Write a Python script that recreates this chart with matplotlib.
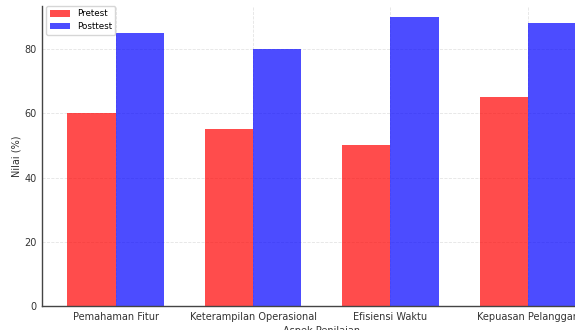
import numpy as np
import matplotlib
matplotlib.use("Agg")
import matplotlib.pyplot as plt

categories = ["Pemahaman Fitur", "Keterampilan Operasional", "Efisiensi Waktu", "Kepuasan Pelanggan"]
pretest = [60, 55, 50, 65]
posttest = [85, 80, 90, 88]

plt.rcParams["font.family"] = "DejaVu Sans"
text_color = "#333333"

fig = plt.figure(figsize = (5.75, 3.3), dpi = 100)
# axes runs past the right edge, the reference picture is cropped there
ax = fig.add_axes([42 / 575, 24 / 330, 559.5 / 575, 300 / 330])

x = np.arange(len(categories))
width = 0.35
ax.bar(x - width / 2, pretest, width, color = "red", alpha = 0.7, label = "Pretest")
ax.bar(x + width / 2, posttest, width, color = "blue", alpha = 0.7, label = "Posttest")

ax.set_xticks(x)
ax.set_xticklabels(categories)
ax.set_ylim(0, 93.4)
ax.set_xlabel("Aspek Penilaian", fontsize = 7, color = text_color, labelpad = 3)
ax.set_ylabel("Nilai (%)", fontsize = 7, color = text_color, labelpad = 2)
ax.tick_params(axis = "both", length = 0, labelsize = 7, labelcolor = text_color, pad = 4)

ax.grid(True, linestyle = "--", color = "#dddddd", linewidth = 0.6, alpha = 0.8)
ax.set_axisbelow(True)
for side in ["top", "right"]:
    ax.spines[side].set_visible(False)
for side in ["left", "bottom"]:
    ax.spines[side].set_color("#444444")
    ax.spines[side].set_linewidth(1.0)

ax.legend(loc = "upper left", fontsize = 6.3, frameon = True, handlelength = 2.3,
          borderpad = 0.4, labelspacing = 0.4, borderaxespad = 0,
          bbox_to_anchor = (4 / 559.5, 1.0))

fig.savefig("out.png", dpi = 100)
